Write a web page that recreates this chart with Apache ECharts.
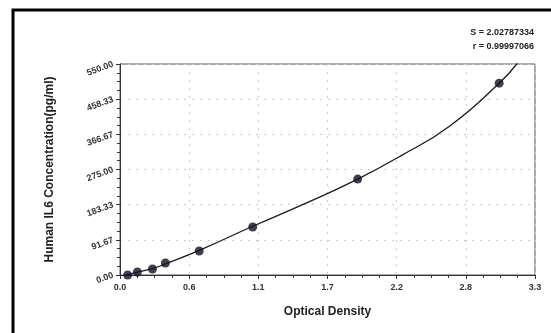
<!DOCTYPE html>
<html>
<head>
<meta charset="utf-8">
<script src="https://cdn.jsdelivr.net/npm/echarts@6/dist/echarts.min.js"></script>
<style>
  html, body { margin: 0; padding: 0; background: #fff; }
  #chart { width: 551px; height: 333px; }
</style>
</head>
<body>
<div id="chart"></div>
<script>
// standards: optical density vs concentration (pg/ml)
const odValues   = [0.061, 0.138, 0.258, 0.361, 0.63, 1.055, 1.89, 3.015];
const concValues = [0, 7.8, 15.6, 31.25, 62.5, 125, 250, 500];
// fitted curve (ends where it leaves the top of the plot)
const curveOd   = [0.05, 0.138, 0.258, 0.361, 0.63, 1.055, 1.47, 1.89, 2.23, 2.62, 3.015, 3.16];
const curveConc = [0, 7.8, 16.5, 29, 64, 127, 186, 250, 310, 388, 500, 552];

const xTickLabels = ['0.0', '0.6', '1.1', '1.7', '2.2', '2.8', '3.3'];
const yTickLabels = ['0.00', '91.67', '183.33', '275.00', '366.67', '458.33', '550.00'];
const statsLines  = ['S = 2.02787334', 'r = 0.99997066'];

const chart = echarts.init(document.getElementById('chart'), null, { renderer: 'canvas' });

const font = '"Liberation Sans", Arial, sans-serif';
const xStep = 3.3 / 6;
const yStep = 550 / 6;

chart.setOption({
  animation: false,
  backgroundColor: '#fff',
  grid: {
    left: 120, top: 64, right: 16, bottom: 58,
    show: true, borderColor: '#555', borderWidth: 1, backgroundColor: 'transparent'
  },
  xAxis: {
    type: 'value', min: 0, max: 3.3, interval: xStep,
    name: 'Optical Density', nameLocation: 'middle', nameGap: 31,
    nameTextStyle: { fontFamily: font, fontWeight: 'bold', fontSize: 12, color: '#222' },
    axisLine: { lineStyle: { color: '#333', width: 1 } },
    axisTick: { show: true, inside: false, length: 4, lineStyle: { color: '#333' } },
    minorTick: { show: true, splitNumber: 4, length: 3, lineStyle: { color: '#333' } },
    axisLabel: {
      fontFamily: font, fontWeight: 'bold', fontSize: 9, color: '#333', margin: 8,
      formatter: v => xTickLabels[Math.round(v / xStep)]
    },
    splitLine: { show: true, lineStyle: { color: '#ccc', type: [2, 6], width: 1 } }
  },
  yAxis: {
    type: 'value', min: 0, max: 550, interval: yStep,
    name: 'Human IL6 Concentration(pg/ml)', nameLocation: 'middle', nameGap: 64,
    nameTextStyle: { fontFamily: font, fontWeight: 'bold', fontSize: 12, color: '#222' },
    axisLine: { show: true, lineStyle: { color: '#333', width: 1 } },
    axisTick: { show: true, inside: false, length: 4, lineStyle: { color: '#333' } },
    minorTick: { show: true, splitNumber: 4, length: 3, lineStyle: { color: '#333' } },
    axisLabel: {
      fontFamily: font, fontWeight: 'bold', fontSize: 9, color: '#333', margin: 7, rotate: 20,
      formatter: v => yTickLabels[Math.round(v / yStep)]
    },
    splitLine: { show: true, lineStyle: { color: '#ccc', type: [2, 6], width: 1 } }
  },
  graphic: [
    {
      type: 'rect', silent: true,
      shape: { x: 13, y: 10, width: 700, height: 500 },
      style: { fill: 'none', stroke: '#000', lineWidth: 3 }
    },
    {
      type: 'text', right: 17, top: 28,
      style: { text: statsLines[0], fontFamily: font, fontWeight: 'bold', fontSize: 9, fill: '#222', textAlign: 'right' }
    },
    {
      type: 'text', right: 17, top: 42,
      style: { text: statsLines[1], fontFamily: font, fontWeight: 'bold', fontSize: 9, fill: '#222', textAlign: 'right' }
    }
  ],
  series: [
    {
      name: 'fit', type: 'line', smooth: 0.5, showSymbol: false, clip: true,
      data: curveOd.map((x, i) => [x, curveConc[i]]),
      lineStyle: { color: '#1a1a1a', width: 1.3 },
      z: 2
    },
    {
      name: 'standards', type: 'scatter', symbolSize: 9,
      data: odValues.map((x, i) => [x, concValues[i]]),
      itemStyle: { color: '#111122' },
      z: 3
    }
  ]
});
</script>
</body>
</html>
